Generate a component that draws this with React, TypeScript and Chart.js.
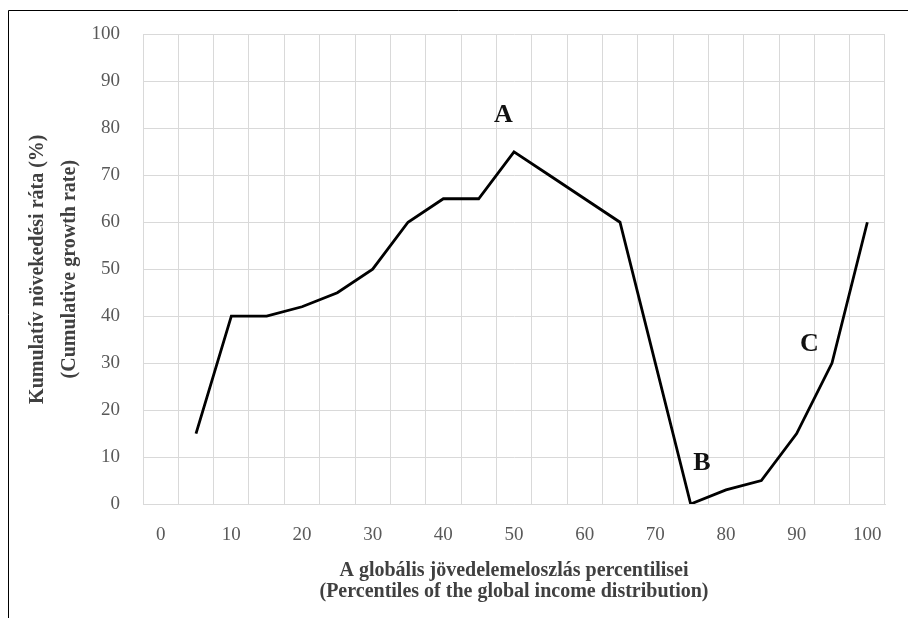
import React, { useEffect, useRef } from 'react';
import { Chart, registerables } from 'chart.js';

Chart.register(...registerables);

// Percentile categories (x axis)
const percentiles = ['0', '5', '10', '15', '20', '25', '30', '35', '40', '45', '50', '55', '60', '65', '70', '75', '80', '85', '90', '95', '100'];
// Cumulative growth rate (%) per percentile
const growthRates: (number | null)[] = [null, 15, 40, 40, 42, 45, 50, 60, 65, 65, 75, 70, 65, 60, 30, 0, 3, 5, 15, 30, 60];
// Shown x tick labels
const xTickLabels = ['0', '10', '20', '30', '40', '50', '60', '70', '80', '90', '100'];
// Point labels (in data units: percentile, growth rate)
const markerTexts = ['A', 'B', 'C'];
const markerPercentile = [48.5, 76.6, 91.8];
const markerRate = [82.8, 8.7, 34];

const yTitle = ['Kumulatív növekedési ráta (%)', '(Cumulative growth rate)'];
const xTitle = ['A globális jövedelemeloszlás percentilisei', '(Percentiles of the global income distribution)'];

const SERIF = '"Liberation Serif", "DejaVu Serif", serif';

const framePlugin = {
  id: 'frame',
  beforeDraw(chart: any) {
    const ctx = chart.ctx;
    ctx.save();
    ctx.fillStyle = '#ffffff';
    ctx.fillRect(0, 0, chart.width, chart.height);
    ctx.strokeStyle = '#000000';
    ctx.lineWidth = 1;
    ctx.beginPath();
    ctx.moveTo(8.5, chart.height);
    ctx.lineTo(8.5, 10.5);
    ctx.lineTo(chart.width, 10.5);
    ctx.stroke();
    ctx.restore();
  },
};

const markerPlugin = {
  id: 'markers',
  afterDatasetsDraw(chart: any) {
    const ctx = chart.ctx;
    const xs = chart.scales.x;
    const ys = chart.scales.y;
    ctx.save();
    ctx.font = `bold 26px ${SERIF}`;
    ctx.fillStyle = '#111111';
    ctx.textAlign = 'center';
    ctx.textBaseline = 'middle';
    markerTexts.forEach((t, i) => {
      const px = xs.getPixelForValue(markerPercentile[i] / 5);
      const py = ys.getPixelForValue(markerRate[i]);
      ctx.fillText(t, px, py);
    });
    ctx.restore();
  },
};

export default function App() {
  const canvasRef = useRef<HTMLCanvasElement | null>(null);

  useEffect(() => {
    if (!canvasRef.current) return;
    const chart = new Chart(canvasRef.current, {
      type: 'line',
      data: {
        labels: percentiles,
        datasets: [
          {
            data: growthRates,
            borderColor: '#000000',
            borderWidth: 2.8,
            pointRadius: 0,
            tension: 0,
            fill: false,
            spanGaps: false,
          },
        ],
      },
      options: {
        responsive: false,
        animation: false,
        devicePixelRatio: 1,
        layout: { padding: { top: 33, right: 23, bottom: 0, left: 0 } },
        plugins: {
          legend: { display: false },
          tooltip: { enabled: false },
        },
        scales: {
          x: {
            type: 'category',
            offset: true,
            grid: { offset: true, color: '#d9d9d9', lineWidth: 1, drawTicks: false },
            border: { color: '#d9d9d9' },
            ticks: {
              autoSkip: false,
              maxRotation: 0,
              minRotation: 0,
              padding: 20,
              color: '#595959',
              font: { family: SERIF, size: 19 },
              callback: (_v: any, idx: number) =>
                xTickLabels.includes(percentiles[idx]) ? percentiles[idx] : '',
            },
            title: {
              display: true,
              text: xTitle,
              color: '#404040',
              font: { family: SERIF, size: 20, weight: 'bold', lineHeight: 1.05 },
              padding: { top: 0, bottom: 16 },
            },
            afterFit: (s: any) => {
              s.height = 114;
            },
          },
          y: {
            min: 0,
            max: 100,
            grid: { color: '#d9d9d9', lineWidth: 1, drawTicks: false },
            border: { color: '#d9d9d9' },
            ticks: {
              stepSize: 10,
              padding: 23,
              color: '#595959',
              font: { family: SERIF, size: 19 },
            },
            title: {
              display: true,
              text: yTitle,
              color: '#404040',
              font: { family: SERIF, size: 20, weight: 'bold', lineHeight: 1.6 },
              padding: { top: 22, bottom: 0 },
            },
            afterFit: (s: any) => {
              s.width = 143;
            },
          },
        },
      },
      plugins: [framePlugin, markerPlugin],
    } as any);
    return () => chart.destroy();
  }, []);

  return (
    <div style={{ position: 'absolute', left: 0, top: 0, width: 908, height: 618 }}>
      <canvas ref={canvasRef} width={908} height={618} style={{ display: 'block' }} />
    </div>
  );
}
